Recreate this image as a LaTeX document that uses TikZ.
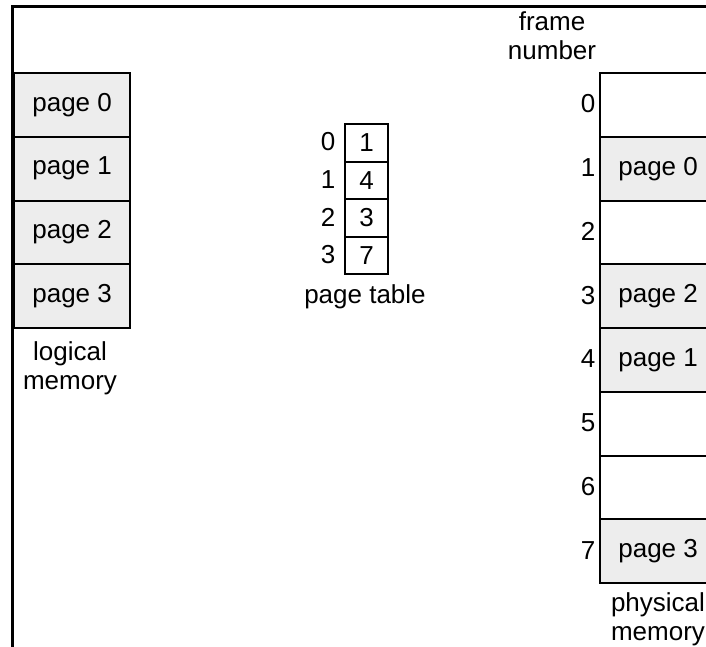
\documentclass[tikz,border=0pt]{standalone}
\usepackage{fontspec}
\setmainfont{Liberation Sans}
\begin{document}
\begin{tikzpicture}[x=1pt,y=-1pt,
  txt/.style={font=\fontsize{26}{29}\selectfont},
  cell/.style={txt, draw, line width=2.2pt, minimum width=116pt, minimum height=63.75pt, inner sep=0pt, anchor=north west},
  used/.style={cell, fill=black!7},
  free/.style={cell, fill=white},
  ptcell/.style={txt, draw, line width=2pt, minimum width=43pt, minimum height=37.5pt, inner sep=0pt, anchor=north west},
  lbl/.style={txt, inner sep=0pt, align=center}]
\useasboundingbox (0,0) rectangle (706,646);
\clip (0,0) rectangle (706,646);
\fill[white] (0,0) rectangle (706,646);
\draw[line width=3pt] (12,650) -- (12,6) -- (710,6);
% logical memory
\node[used] (lp0) at (13,72) {page 0};
\node[used] (lp1) at (13,135.75) {page 1};
\node[used] (lp2) at (13,199.5) {page 2};
\node[used] (lp3) at (13,263.25) {page 3};
\node[lbl] (lmlab) at (70,368) {logical\\memory};
% page table
\node[ptcell] (pt0) at (344,123) {1};
\node[ptcell] (pt1) at (344,160.5) {4};
\node[ptcell] (pt2) at (344,198) {3};
\node[ptcell] (pt3) at (344,235.5) {7};
\node[lbl] (pti0) at (328,142) {0};
\node[lbl] (pti1) at (328,179.5) {1};
\node[lbl] (pti2) at (328,217) {2};
\node[lbl] (pti3) at (328,254.5) {3};
\node[lbl] (ptlab) at (365,297) {page table};
% physical memory
\node[lbl] (fnlab) at (552,36) {frame\\number};
\node[free] (f0) at (599,72) {};
\node[used] (f1) at (599,135.75) {page 0};
\node[free] (f2) at (599,199.5) {};
\node[used] (f3) at (599,263.25) {page 2};
\node[used] (f4) at (599,327) {page 1};
\node[free] (f5) at (599,390.75) {};
\node[free] (f6) at (599,454.5) {};
\node[used] (f7) at (599,518.25) {page 3};
\node[lbl] (fn0) at (588,104) {0};
\node[lbl] (fn1) at (588,167.75) {1};
\node[lbl] (fn2) at (588,231.5) {2};
\node[lbl] (fn3) at (588,295.25) {3};
\node[lbl] (fn4) at (588,359) {4};
\node[lbl] (fn5) at (588,422.75) {5};
\node[lbl] (fn6) at (588,486.5) {6};
\node[lbl] (fn7) at (588,550.25) {7};
\node[lbl] (pmlab) at (658,619) {physical\\memory};
\end{tikzpicture}
\end{document}
